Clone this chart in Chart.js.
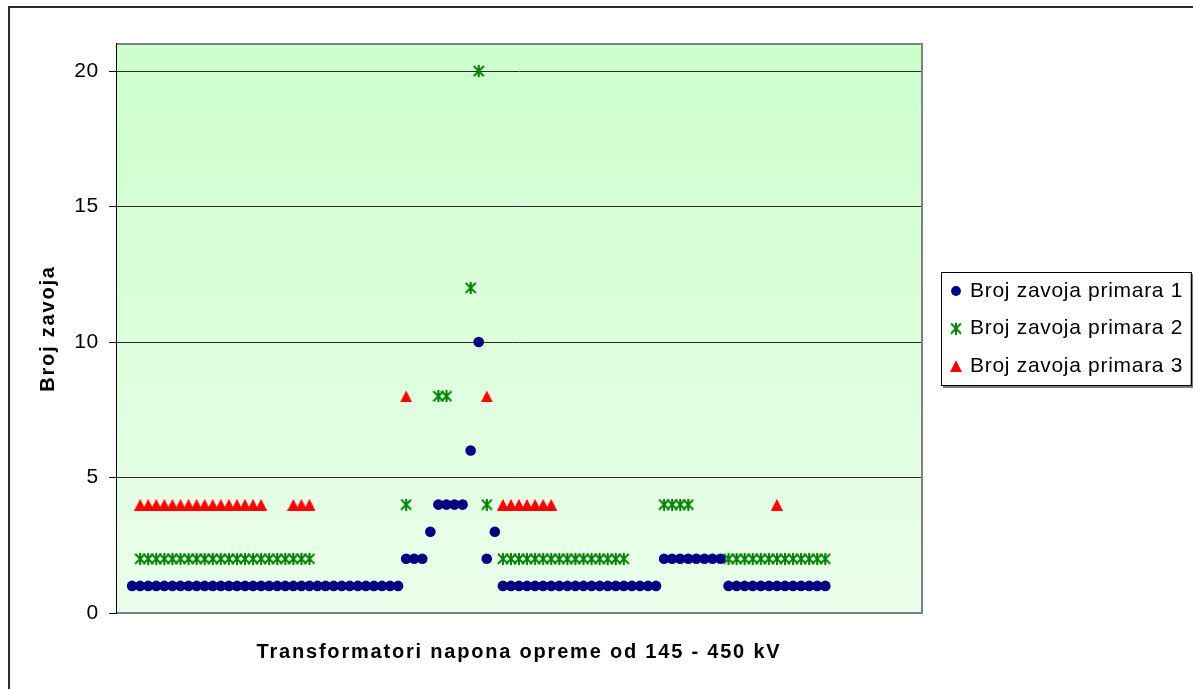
<!DOCTYPE html>
<html>
<head>
<meta charset="utf-8">
<script src="https://cdn.jsdelivr.net/npm/chart.js@4.4.1/dist/chart.umd.min.js"></script>
<style>
html,body{margin:0;padding:0;background:#fff;overflow:hidden;}
canvas{display:block;}
</style>
</head>
<body>
<canvas id="c" width="1193" height="689"></canvas>
<script>
// ---- Data ----
const transformers = [1,2,3,4,5,6,7,8,9,10,11,12,13,14,15,16,17,18,19,20,21,22,23,24,25,26,27,28,29,30,
  31,32,33,34,35,36,37,38,39,40,41,42,43,44,45,46,47,48,49,50,51,52,53,54,55,56,57,58,59,60,
  61,62,63,64,65,66,67,68,69,70,71,72,73,74,75,76,77,78,79,80,81,82,83,84,85,86,87];
const N = null;
const primar1 = [1,1,1,1,1,1,1,1,1,1,
  1,1,1,1,1,1,1,1,1,1,
  1,1,1,1,1,1,1,1,1,1,
  1,1,1,1,2,2,2,3,4,4,
  4,4,6,10,2,3,1,1,1,1,
  1,1,1,1,1,1,1,1,1,1,
  1,1,1,1,1,1,2,2,2,2,
  2,2,2,2,1,1,1,1,1,1,
  1,1,1,1,1,1,1];
const primar2 = [N,2,2,2,2,2,2,2,2,2,
  2,2,2,2,2,2,2,2,2,2,
  2,2,2,N,N,N,N,N,N,N,
  N,N,N,N,4,N,N,N,8,8,
  N,N,12,20,4,N,2,2,2,2,
  2,2,2,2,2,2,2,2,2,2,
  2,2,N,N,N,N,4,4,4,4,
  N,N,N,N,2,2,2,2,2,2,
  2,2,2,2,2,2,2];
const primar3 = [N,4,4,4,4,4,4,4,4,4,
  4,4,4,4,4,4,4,N,N,N,
  4,4,4,N,N,N,N,N,N,N,
  N,N,N,N,8,N,N,N,N,N,
  N,N,N,N,8,N,4,4,4,4,
  4,4,4,N,N,N,N,N,N,N,
  N,N,N,N,N,N,N,N,N,N,
  N,N,N,N,N,N,N,N,N,N,
  4,N,N,N,N,N,N];
const seriesNames = ['Broj zavoja primara 1','Broj zavoja primara 2','Broj zavoja primara 3'];
const yTicks = [0,5,10,15,20];
const xTitle = 'Transformatori napona opreme od 145 - 450 kV';
const yTitle = 'Broj zavoja';

const FAMILY = "'Liberation Sans', Arial, Helvetica, sans-serif";
Chart.defaults.font.family = FAMILY;
Chart.defaults.color = '#000';

function toPoints(vals){
  return transformers.map((t,i)=>({x:t, y:vals[i]}));
}

function makeStar(){
  const c=document.createElement('canvas'); c.width=12; c.height=12;
  const g=c.getContext('2d');
  g.strokeStyle='#008000'; g.lineWidth=2; g.lineCap='butt';
  g.beginPath();
  g.moveTo(1,1); g.lineTo(11,11);
  g.moveTo(11,1); g.lineTo(1,11);
  g.moveTo(6,0); g.lineTo(6,12);
  g.stroke();
  return c;
}
function makeTri(){
  const c=document.createElement('canvas'); c.width=12; c.height=12;
  const g=c.getContext('2d');
  g.fillStyle='#ff0000';
  g.beginPath(); g.moveTo(6,0.3); g.lineTo(12,12); g.lineTo(0,12); g.closePath(); g.fill();
  return c;
}
const starImg = makeStar();
const triImg = makeTri();

const decor = {
  id:'decor',
  beforeLayout(chart){
    chart.ctx.letterSpacing='0.7px';
    const lg = chart.legend;
    if (lg && !lg._fixW){
      const f = lg.fit;
      lg.fit = function(){ f.call(this); this.width = 257; };
      lg._fixW = true;
    }
  },
  beforeDraw(chart){
    const ctx = chart.ctx;
    ctx.letterSpacing='0.7px';
    Object.values(chart.scales).forEach(s=>{
      if(!s._lsp){
        const f=s.drawTitle;
        s.drawTitle=function(){ const c=this.ctx; const p=c.letterSpacing; c.letterSpacing='1.8px'; f.apply(this,arguments); c.letterSpacing=p; };
        s._lsp=true;
      }
    });
    ctx.save();
    ctx.fillStyle='#fff';
    ctx.fillRect(0,0,chart.width,chart.height);
    // outer border
    ctx.strokeStyle='#2b2b2b'; ctx.lineWidth=2;
    ctx.beginPath(); ctx.moveTo(9,chart.height+2); ctx.lineTo(9,7); ctx.lineTo(chart.width+2,7); ctx.stroke();
    // plot area gradient
    const a = chart.chartArea;
    const gr = ctx.createLinearGradient(0,a.top,0,a.bottom);
    gr.addColorStop(0,'#ccffcc'); gr.addColorStop(1,'#ebffeb');
    ctx.fillStyle=gr; ctx.fillRect(a.left,a.top,a.right-a.left,a.bottom-a.top);
    // legend frame
    const lg = chart.legend;
    if (lg && lg.legendHitBoxes && lg.legendHitBoxes.length){
      const hb = lg.legendHitBoxes;
      const L = hb[0].left-11.5, T = hb[0].top-8.5;
      const R = 1190.5, B = hb[hb.length-1].top+hb[hb.length-1].height+8.5;
      ctx.fillStyle='#7a7a7a'; ctx.fillRect(L+2,T+2,R-L+1,B-T+1);
      ctx.fillStyle='#fff'; ctx.fillRect(L,T,R-L,B-T);
      ctx.strokeStyle='#000'; ctx.lineWidth=1;
      ctx.strokeRect(Math.round(L)+0.5,Math.round(T)+0.5,Math.round(R-L),Math.round(B-T));
    }
    ctx.restore();
  },
  beforeDatasetsDraw(chart){
    const ctx=chart.ctx, a=chart.chartArea;
    ctx.save();
    ctx.strokeStyle='#808080'; ctx.lineWidth=2;
    ctx.beginPath();
    ctx.moveTo(a.left,a.top); ctx.lineTo(a.right,a.top); ctx.lineTo(a.right,a.bottom); ctx.lineTo(a.left,a.bottom);
    ctx.stroke();
    ctx.strokeStyle='#000'; ctx.lineWidth=1;
    ctx.beginPath(); ctx.moveTo(a.left+0.5,a.top-1); ctx.lineTo(a.left+0.5,a.bottom+1); ctx.stroke();
    ctx.restore();
  }
};

new Chart(document.getElementById('c'), {
  type:'scatter',
  data:{
    datasets:[
      {label:seriesNames[0], data:toPoints(primar1), pointStyle:'circle', pointRadius:5.3, pointHoverRadius:5.3, backgroundColor:'#000080', borderColor:'#000080', borderWidth:0},
      {label:seriesNames[1], data:toPoints(primar2), pointStyle:starImg, pointRadius:6, pointHoverRadius:6, backgroundColor:'#008000', borderColor:'#008000', borderWidth:0},
      {label:seriesNames[2], data:toPoints(primar3), pointStyle:triImg, pointRadius:6, pointHoverRadius:6, backgroundColor:'#ff0000', borderColor:'#ff0000', borderWidth:0}
    ]
  },
  options:{
    responsive:false, animation:false, devicePixelRatio:1,
    layout:{padding:{left:0,top:44,right:0,bottom:0}},
    scales:{
      x:{type:'linear', min:-1, max:99, position:'bottom',
        grid:{display:false}, border:{display:false}, ticks:{display:false},
        title:{display:true, text:xTitle, color:'#000', font:{size:20, weight:'bold', family:FAMILY}, padding:{top:0,bottom:25}},
        afterFit(s){ s.height=76; }
      },
      y:{type:'linear', min:0, max:21, position:'left',
        afterBuildTicks(s){ s.ticks = yTicks.map(v=>({value:v})); },
        ticks:{stepSize:5, includeBounds:false, color:'#000', font:{size:21, family:FAMILY}, padding:10},
        grid:{color:(c)=> (c.tick && c.tick.value===0) ? 'rgba(0,0,0,0)' : '#2a2a2a', lineWidth:1, tickColor:'#000', tickLength:7, drawTicks:true},
        border:{display:true, color:'#000', width:1},
        title:{display:true, text:yTitle, color:'#000', font:{size:20, weight:'bold', family:FAMILY}, padding:{top:36,bottom:0}},
        afterFit(s){ s.width=116; }
      },
      yR:{type:'linear', position:'right', display:true,
        grid:{display:false}, border:{display:false}, ticks:{display:false},
        afterFit(s){ s.width=14; }
      }
    },
    plugins:{
      legend:{position:'right', fullSize:false, maxWidth:300,
        labels:{usePointStyle:true, boxWidth:7, boxHeight:7, padding:16.5, color:'#000', font:{size:21, family:FAMILY}}
      },
      tooltip:{enabled:false},
      title:{display:false}
    },
    events:[]
  },
  plugins:[decor]
});
</script>
</body>
</html>
